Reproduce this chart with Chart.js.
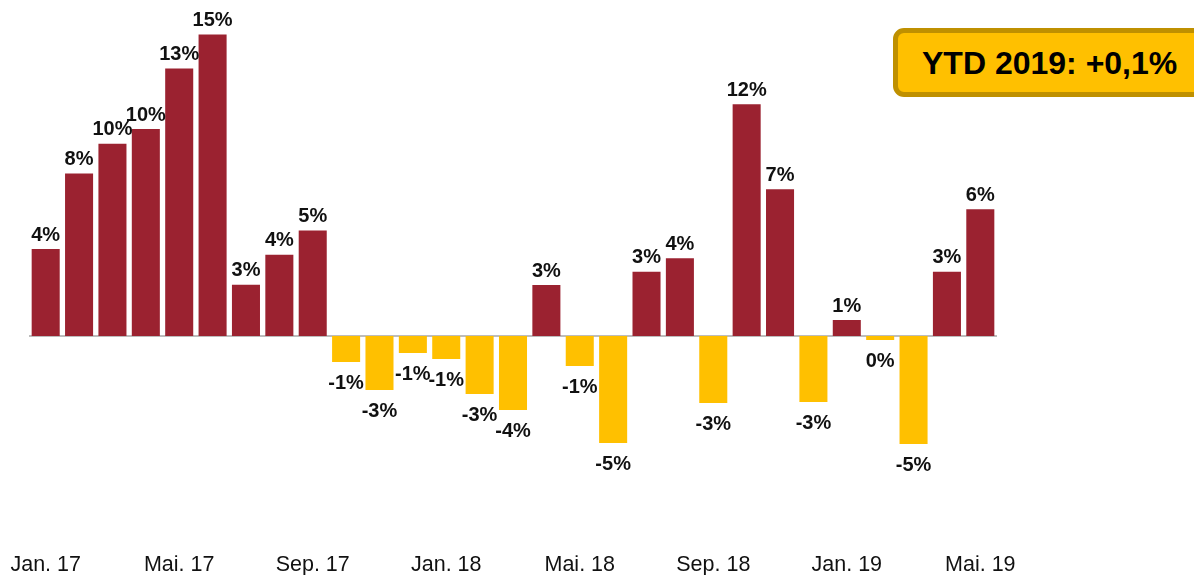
<!DOCTYPE html>
<html>
<head>
<meta charset="utf-8">
<script src="https://cdn.jsdelivr.net/npm/chart.js"></script>
<style>
  html, body { margin: 0; padding: 0; background: #fff; overflow: hidden; }
  #wrap { position: relative; width: 1194px; height: 575px; }
  #ytd {
    position: absolute; left: 893px; top: 28px; width: 330px; height: 69px;
    box-sizing: border-box; background: #FFC000; border: 5px solid #BF9000;
    border-radius: 11px; padding-left: 24px;
    font: bold 32px 'Liberation Sans', Arial, sans-serif; color: #000;
    line-height: 59px; white-space: nowrap;
  }
  #ytd span { position: relative; top: 1px; }
</style>
</head>
<body>
<div id="wrap">
  <canvas id="myChart"></canvas>
  <div id="ytd"><span>YTD 2019: +0,1%</span></div>
</div>
<script>
// months Jan 17 - Mai 19, only every 4th is shown on the axis
const months = [
  'Jan. 17', 'Feb. 17', 'Mrz. 17', 'Apr. 17', 'Mai. 17', 'Jun. 17', 'Jul. 17', 'Aug. 17', 'Sep. 17', 'Okt. 17', 'Nov. 17', 'Dez. 17',
  'Jan. 18', 'Feb. 18', 'Mrz. 18', 'Apr. 18', 'Mai. 18', 'Jun. 18', 'Jul. 18', 'Aug. 18', 'Sep. 18', 'Okt. 18', 'Nov. 18', 'Dez. 18',
  'Jan. 19', 'Feb. 19', 'Mrz. 19', 'Apr. 19', 'Mai. 19'
];

// yearly change in %
const changes = [
  4.35, 8.13, 9.62, 10.35, 13.37, 15.08, 2.57, 4.07, 5.28, -1.29, -2.69, -0.84,
  -1.14, -2.89, -3.69, 2.55, -1.49, -5.34, 3.22, 3.89, -3.34, 11.59, 7.34, -3.29,
  0.8, -0.19, -5.39, 3.22, 6.34
];

const red = '#9B2230';
const yellow = '#FFC000';
const fontFam = "'Liberation Sans', Arial, sans-serif";

// zero line + value labels above / below each bar
const barLabels = {
  id: 'barLabels',
  beforeDatasetsDraw(chart) {
    const { ctx, chartArea, scales } = chart;
    const y0 = scales.y.getPixelForValue(0);
    ctx.save();
    ctx.strokeStyle = '#A6A6A6';
    ctx.lineWidth = 1.5;
    ctx.beginPath();
    ctx.moveTo(chartArea.left, y0);
    ctx.lineTo(chartArea.right, y0);
    ctx.stroke();
    ctx.restore();
  },
  afterDatasetsDraw(chart) {
    const ctx = chart.ctx;
    const meta = chart.getDatasetMeta(0);
    ctx.save();
    ctx.font = 'bold 20px ' + fontFam;
    ctx.fillStyle = '#111';
    ctx.textAlign = 'center';
    ctx.textBaseline = 'alphabetic';
    meta.data.forEach((bar, i) => {
      const v = changes[i];
      const txt = Math.round(v) + '%';
      const y = v >= 0 ? bar.y - 8.5 : bar.y + 27.5;
      ctx.fillText(txt, bar.x, y);
    });
    ctx.restore();
  }
};

const ctx = document.getElementById('myChart').getContext('2d');
const myChart = new Chart(ctx, {
  type: 'bar',
  data: {
    labels: months,
    datasets: [{
      data: changes,
      backgroundColor: changes.map(v => v >= 0 ? red : yellow),
      borderWidth: 0,
      barPercentage: 0.84,
      categoryPercentage: 1
    }]
  },
  options: {
    responsive: true,
    maintainAspectRatio: false,
    animation: false,
    layout: { padding: { left: 29, right: 197, top: 16, bottom: 0 } },
    plugins: { legend: { display: false }, tooltip: { enabled: false } },
    scales: {
      x: {
        grid: { display: false, drawTicks: false },
        border: { display: false },
        ticks: {
          autoSkip: false,
          maxRotation: 0,
          minRotation: 0,
          padding: -3,
          color: '#111',
          font: { family: fontFam, size: 21.5 },
          callback: function (val, i) { return i % 4 === 0 ? this.getLabelForValue(val) : ''; }
        }
      },
      y: {
        display: false,
        min: -10.95,
        max: 16
      }
    }
  },
  plugins: [barLabels]
});
</script>
</body>
</html>
